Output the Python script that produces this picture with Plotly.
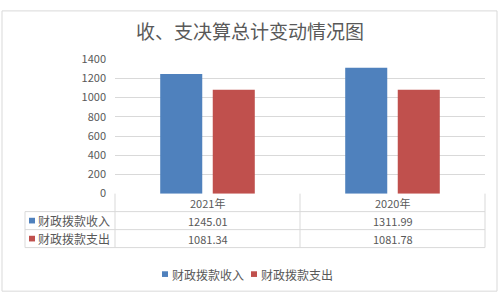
import plotly.graph_objects as go

categories = ["2021年", "2020年"]
series_names = ["财政拨款收入", "财政拨款支出"]
income = [1245.01, 1311.99]
expense = [1081.34, 1081.78]
series_values = [income, expense]
colors = ["#4F81BD", "#C0504D"]
y_ticks = [0, 200, 400, 600, 800, 1000, 1200, 1400]
title = "收、支决算总计变动情况图"

W, H = 500, 301
FONT = "Noto Sans CJK SC, Microsoft YaHei, sans-serif"
TXT = "#595959"
LINE = "#D9D9D9"


def px(x):
    return x / W


def py(y):
    return 1 - y / H


fig = go.Figure()
for name, vals, c in zip(series_names, series_values, colors):
    fig.add_trace(go.Bar(x=categories, y=vals, name=name, marker=dict(color=c, line=dict(width=0))))

shapes = []
annotations = []

# outer border
shapes.append(dict(type="rect", xref="paper", yref="paper", x0=px(2), x1=px(497), y0=py(2), y1=py(298),
                   line=dict(color=LINE, width=1)))

# data table lines
L, M, R, LL = 115, 300, 485, 25
T0, T1, T2, T3 = 195, 214, 233, 252
for y in (T1, T2, T3):
    shapes.append(dict(type="line", xref="paper", yref="paper", x0=px(LL), x1=px(R), y0=py(y), y1=py(y),
                       line=dict(color=LINE, width=1)))
for x in (L, M, R):
    shapes.append(dict(type="line", xref="paper", yref="paper", x0=px(x), x1=px(x), y0=py(T0), y1=py(T3),
                       line=dict(color=LINE, width=1)))
shapes.append(dict(type="line", xref="paper", yref="paper", x0=px(LL), x1=px(LL), y0=py(T1), y1=py(T3),
                   line=dict(color=LINE, width=1)))

# header row
for cat in categories:
    annotations.append(dict(x=cat, xref="x", y=py(205), yref="paper", text=cat, showarrow=False,
                            font=dict(family=FONT, size=11, color=TXT), xanchor="center", yanchor="middle"))

row_y = [223.5, 242.5]
for name, vals, c, ry in zip(series_names, series_values, colors, row_y):
    shapes.append(dict(type="rect", xref="paper", yref="paper", x0=px(29), x1=px(35), y0=py(ry - 3), y1=py(ry + 3),
                       fillcolor=c, line=dict(width=0)))
    annotations.append(dict(x=px(35.5), xref="paper", y=py(ry), yref="paper", text=name, showarrow=False,
                            font=dict(family=FONT, size=12, color=TXT), xanchor="left", yanchor="middle"))
    for cat, v in zip(categories, vals):
        annotations.append(dict(x=cat, xref="x", y=py(ry), yref="paper", text=f"{v:.2f}", showarrow=False,
                                font=dict(family=FONT, size=11, color=TXT), xanchor="center", yanchor="middle"))

# legend at bottom
leg_y = 280
leg_x = [162, 251]
for name, c, lx in zip(series_names, colors, leg_x):
    shapes.append(dict(type="rect", xref="paper", yref="paper", x0=px(lx), x1=px(lx + 6), y0=py(leg_y - 3),
                       y1=py(leg_y + 3), fillcolor=c, line=dict(width=0)))
    annotations.append(dict(x=px(lx + 8), xref="paper", y=py(leg_y), yref="paper", text=name, showarrow=False,
                            font=dict(family=FONT, size=12, color=TXT), xanchor="left", yanchor="middle"))

# title
annotations.append(dict(x=px(250), xref="paper", y=py(23), yref="paper", text=title, showarrow=False,
                        font=dict(family=FONT, size=19, color=TXT), xanchor="center", yanchor="middle"))

fig.update_layout(
    width=W, height=H,
    margin=dict(l=0, r=0, t=0, b=0),
    paper_bgcolor="white", plot_bgcolor="white",
    showlegend=False,
    barmode="group", bargap=0.432, bargroupgap=0.2,
    shapes=shapes, annotations=annotations,
    xaxis=dict(domain=[px(L), px(R)], showticklabels=False, showgrid=False, zeroline=False,
               showline=False, ticks="", fixedrange=True),
    yaxis=dict(domain=[py(195), py(53)], range=[0, 1400], tickvals=y_ticks,
               ticktext=[str(t) for t in y_ticks], showgrid=True, gridcolor=LINE, gridwidth=1,
               zeroline=False, showline=False, ticks="", ticklabelstandoff=8,
               tickfont=dict(family=FONT, size=11, color=TXT)),
    font=dict(family=FONT),
)

fig.write_html("out.html")
